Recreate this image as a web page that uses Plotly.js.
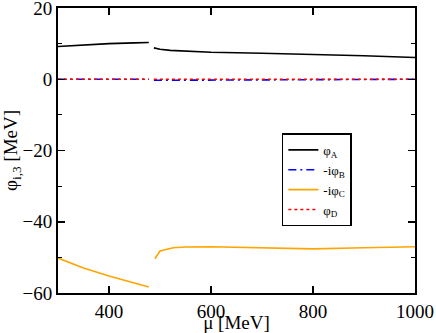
<!DOCTYPE html>
<html>
<head>
<meta charset="utf-8">
<script src="https://cdn.plot.ly/plotly-3.0.1.min.js"></script>
<style>
  html, body { margin: 0; padding: 0; background: #fff; }
  #chart { width: 436px; height: 333px; }
</style>
</head>
<body>
<div id="chart"></div>
<script>
// mu [MeV]; null marks the break near 480 MeV
const muA = [300, 350, 400, 450, 478, null, 488, 500, 520, 550, 600, 700, 800, 900, 1000];
const phiA = [9.2, 9.7, 10.0, 10.2, 10.3, null, 8.8, 8.4, 8.1, 7.9, 7.6, 7.3, 7.0, 6.6, 6.1];

const muB = [300, 400, 478, null, 488, 600, 800, 1000];
const phiB = [0.0, 0.0, 0.0, null, -0.3, -0.2, -0.1, 0.0];

const muC = [300, 350, 400, 450, 478, null, 490, 500, 526, 550, 600, 700, 800, 900, 1000];
const phiC = [-50.2, -53.0, -55.2, -57.2, -58.3, null, -50.4, -48.2, -47.3, -47.1, -47.0, -47.2, -47.6, -47.3, -47.0];

const muD = [300, 478, null, 488, 1000];
const phiD = [0.0, 0.0, null, 0.0, 0.0];

const serif = "'Liberation Serif', 'DejaVu Serif', serif";

const traces = [
    { x: muA, y: phiA, mode: 'lines', name: 'φ<sub>A</sub>',
      line: { color: 'black', width: 1.6 } },
    { x: muB, y: phiB, mode: 'lines', name: '-iφ<sub>B</sub>',
      line: { color: '#0000ff', width: 1.6, dash: '8px,4px,2px,4px' } },
    { x: muC, y: phiC, mode: 'lines', name: '-iφ<sub>C</sub>',
      line: { color: '#ffa500', width: 1.6 } },
    { x: muD, y: phiD, mode: 'lines', name: 'φ<sub>D</sub>',
      line: { color: '#ff0000', width: 1.6, dash: 'dot' } }
];

const layout = {
    width: 436,
    height: 333,
    margin: { l: 58, r: 21, t: 8, b: 40 },
    paper_bgcolor: 'white',
    plot_bgcolor: 'white',
    font: { family: serif, color: 'black', size: 19 },
    showlegend: true,
    legend: {
        x: 0.627, y: 0.56, xanchor: 'left', yanchor: 'top',
        bgcolor: 'white', bordercolor: 'black', borderwidth: 1.5,
        font: { family: serif, size: 13 },
        itemwidth: 30,
        tracegroupgap: 0
    },
    xaxis: {
        range: [300, 1000],
        dtick: 200,
        tick0: 0,
        showgrid: false,
        zeroline: false,
        showline: true,
        linecolor: 'black',
        linewidth: 2,
        mirror: 'ticks',
        ticks: 'inside',
        ticklen: 7,
        tickwidth: 1.5,
        tickcolor: 'black',
        automargin: false,
        ticklabeloverflow: 'allow',
        tickfont: { family: serif, size: 19 },
        title: { text: 'μ [MeV]', font: { family: serif, size: 19 }, standoff: 2 }
    },
    yaxis: {
        range: [-60, 20],
        dtick: 20,
        tick0: 0,
        showgrid: false,
        zeroline: false,
        showline: true,
        linecolor: 'black',
        linewidth: 2,
        mirror: 'ticks',
        ticks: 'inside',
        ticklen: 7,
        tickwidth: 1.5,
        tickcolor: 'black',
        automargin: false,
        ticklabeloverflow: 'allow',
        minor: { dtick: 10, tick0: 0, ticks: 'inside', ticklen: 4, tickwidth: 1, tickcolor: 'black', showgrid: false },
        tickfont: { family: serif, size: 19 },
        title: { text: 'φ<sub>i,3</sub> [MeV]', font: { family: serif, size: 19 }, standoff: 4 }
    }
};

Plotly.newPlot('chart', traces, layout, { displayModeBar: false, staticPlot: true });
</script>
</body>
</html>
